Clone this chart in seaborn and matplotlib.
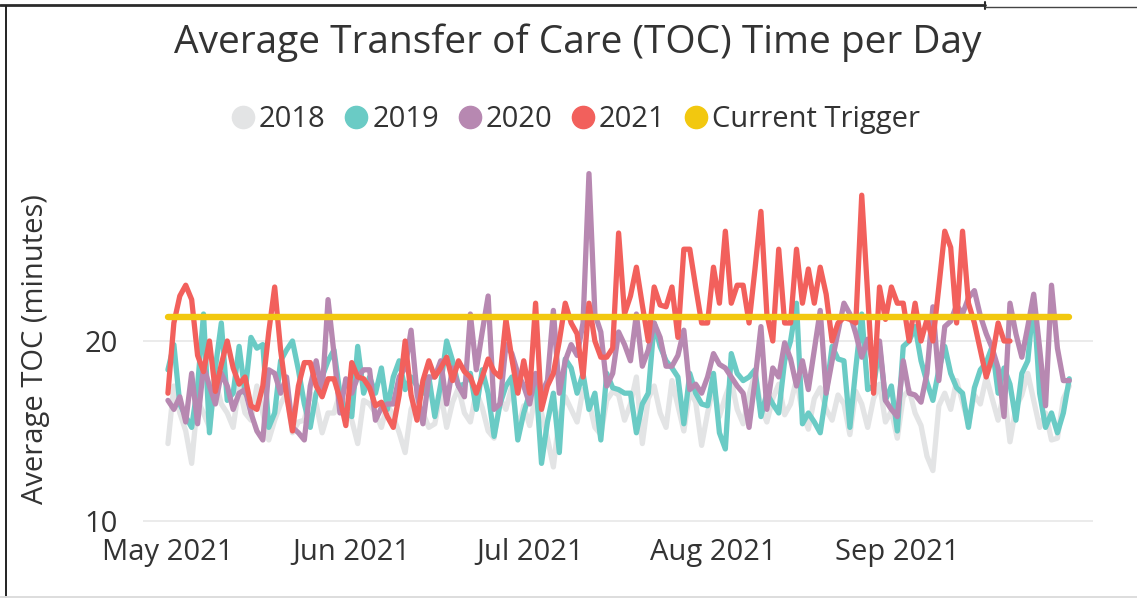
import numpy as np
import pandas as pd
import matplotlib
matplotlib.use("Agg")
import matplotlib.pyplot as plt
import matplotlib.dates as mdates
from matplotlib.lines import Line2D
import seaborn as sns

# daily average TOC (minutes), 1 May - 30 Sep
toc_2018 = [
    14.3, 17.5, 16.0, 15.0, 13.2, 16.7, 16.0, 15.2, 17.8, 16.5,
    16.0, 15.2, 17.5, 16.0, 15.6, 17.5, 16.0, 14.5, 15.6, 16.5,
    17.1, 14.9, 15.5, 15.6, 17.1, 16.5, 14.9, 16.0, 16.0, 17.1,
    16.5, 15.6, 14.3, 16.7, 16.5, 16.0, 15.2,
    16.5, 15.8, 14.9, 13.8, 16.2, 17.0, 16.0, 15.2, 15.4, 17.1,
    15.2, 16.6, 17.4, 16.0, 15.5, 17.2, 16.3, 15.0, 14.6, 16.8,
    16.2, 17.5, 15.0, 16.4, 15.3, 17.0, 16.0, 14.6, 13.0, 15.8,
    16.9, 16.2, 15.5, 17.3, 16.6, 15.2, 14.8, 16.7, 17.2,
    17.0, 15.6, 16.5, 18.0, 14.3, 16.8, 17.5, 16.0, 15.2, 17.8,
    16.4, 15.0, 17.2, 16.6, 14.2, 16.0, 17.5, 15.8, 16.9, 17.8,
    16.2, 15.4, 17.0, 18.2, 16.3, 15.5, 16.8, 17.6, 15.9, 16.5,
    17.9, 16.0, 15.1, 16.8, 17.4, 16.2, 15.6, 17.0, 16.5,
    14.8, 17.2, 16.5, 15.2, 16.8, 17.6, 15.5, 16.1, 14.6, 16.9,
    17.3, 16.0, 15.3, 13.6, 12.8, 16.4, 17.1, 16.2, 17.8, 16.6,
    15.4, 17.0, 16.5, 18.0, 16.8, 15.6, 17.2, 14.4, 16.3, 17.0,
    18.2, 16.7, 15.2, 16.0, 14.5, 14.6, 16.8, 17.5,
]
toc_2019 = [
    18.4, 19.8, 16.5, 15.8, 15.2, 17.5, 21.5, 14.9, 18.5, 21.0,
    16.7, 17.1, 19.7, 17.1, 20.2, 19.6, 19.8, 15.2, 16.0, 18.9,
    19.5, 20.0, 18.4, 16.5, 15.2, 17.1, 18.0, 18.9, 19.5, 17.1,
    16.0, 15.8, 19.7, 17.1, 18.0, 17.1, 18.5,
    16.2, 18.0, 18.9, 17.3, 18.0, 17.5, 17.1, 18.0, 15.8, 17.6,
    20.0, 18.9, 17.5, 17.6, 18.2, 16.2, 18.4, 17.1, 14.7, 16.5,
    17.5, 18.0, 14.5, 16.0, 17.1, 18.0, 13.2, 15.5, 17.1, 13.8,
    19.0, 18.5, 17.1, 18.2, 16.2, 17.1, 14.5, 18.2, 17.4,
    17.3, 17.1, 17.1, 14.9, 16.5, 17.1, 21.0, 19.7, 18.9, 18.5,
    18.0, 15.4, 18.2, 17.1, 16.5, 16.4, 18.2, 14.9, 14.0, 19.3,
    18.2, 17.8, 18.0, 18.4, 15.8, 17.1, 16.5, 16.0, 18.9, 20.0,
    22.1, 15.4, 16.0, 15.5, 14.9, 17.1, 19.7, 19.0, 18.9,
    15.2, 18.5, 21.5, 17.3, 17.5, 19.7, 16.7, 17.5, 15.0, 19.7,
    20.0, 20.8, 18.9, 17.7, 16.7, 18.4, 19.7, 18.2, 17.4, 17.1,
    15.2, 17.4, 18.4, 18.8, 19.7, 17.1, 18.5, 17.6, 15.6, 18.2,
    18.9, 22.3, 17.1, 15.2, 16.0, 14.9, 16.0, 17.9,
]
toc_2020 = [
    16.7, 16.2, 16.9, 15.5, 18.2, 15.4, 18.6, 17.5, 16.5, 18.2,
    17.5, 16.2, 17.1, 17.3, 16.0, 15.0, 14.5, 18.4, 18.2, 17.1,
    18.0, 15.2, 14.9, 14.5, 17.5, 18.9, 17.1, 22.3, 19.3, 16.0,
    17.9, 17.1, 18.0, 18.4, 18.4, 15.6, 16.3, 16.5,
    16.5, 18.0, 18.5, 20.6, 17.1, 15.4, 18.0, 18.0, 18.9, 16.5,
    18.5, 17.5, 16.9, 21.5, 18.4, 20.5, 22.5, 16.2, 16.5, 19.8,
    19.3, 18.2, 17.5, 16.5, 18.2, 17.1, 17.8, 21.7, 17.1, 18.9,
    19.8, 19.2, 21.0, 29.3, 21.5, 20.5, 17.5, 18.2,
    20.5, 19.8, 18.9, 21.5, 18.6, 19.5, 21.0, 20.2, 18.6, 18.6,
    19.2, 20.6, 17.3, 17.6, 17.1, 18.0, 19.3, 18.7, 18.5, 18.0,
    17.5, 17.1, 15.2, 17.8, 20.8, 16.2, 18.5, 18.0, 19.9, 19.0,
    17.5, 18.9, 17.3, 19.5, 21.7, 17.1, 18.9, 20.5, 22.1,
    21.5, 20.4, 19.1, 20.1, 18.5, 20.0, 16.7, 16.2, 15.8, 18.9,
    17.1, 17.0, 16.6, 18.2, 21.9, 17.8, 20.8, 21.1, 22.0, 21.5,
    22.4, 22.8, 21.4, 20.4, 19.6, 18.5, 15.8, 22.1, 20.4, 19.1,
    20.8, 22.6, 19.6, 16.4, 23.1, 19.6, 17.8, 17.8,
]
# 2021 only runs to 21 Sep
toc_2021 = [
    17.1, 21.0, 22.5, 23.1, 22.3, 19.2, 18.3, 20.0, 17.2, 18.7,
    20.0, 18.5, 17.6, 18.0, 16.4, 16.2, 17.5, 20.5, 23.0, 19.5,
    17.0, 15.0, 17.5, 18.8, 18.8, 17.5, 16.9, 17.9, 17.9, 16.8,
    15.3, 18.8, 18.0, 17.9, 17.4, 16.4, 16.6, 15.8,
    15.2, 17.0, 20.0, 17.0, 15.6, 17.8, 18.9, 18.0, 18.5, 19.1,
    17.8, 18.9, 18.3, 18.0, 17.1, 18.0, 19.0, 18.3, 18.0, 21.2,
    19.0, 17.1, 18.9, 17.1, 22.1, 16.2, 17.5, 18.2, 20.0, 22.1,
    21.0, 20.4, 18.0, 22.1, 20.0, 19.1,
    19.1, 19.6, 26.0, 21.5, 22.5, 24.1, 22.0, 20.0, 23.0, 22.0,
    21.9, 23.0, 20.2, 25.1, 25.1, 23.0, 21.0, 21.0, 24.1, 22.1,
    26.1, 22.1, 23.1, 23.1, 21.0, 24.0, 27.2, 21.5, 20.0, 25.1,
    21.0, 21.0, 25.1, 22.1, 24.0, 22.1, 24.1, 22.6, 20.0, 21.0,
    21.3, 21.2, 21.0, 28.1, 22.6, 17.1, 23.0, 21.2, 23.0, 22.1,
    22.1, 20.0, 22.1, 20.0, 21.2, 20.0, 23.0, 26.1, 25.2, 21.0,
    26.1, 22.1, 21.0, 19.5, 18.0, 19.1, 21.0, 20.0, 20.0,
]
trigger_value = 21.35

series_names = ["2018", "2019", "2020", "2021", "Current Trigger"]
colors = ["#E3E4E5", "#6ACBC5", "#B788B1", "#F2605C", "#F2C80F"]
month_ticks = ["2021-05-01", "2021-06-01", "2021-07-01", "2021-08-01", "2021-09-01"]

dates = pd.date_range("2021-05-01", "2021-09-30", freq="D")

frames = []
for name, vals in zip(series_names[:4], [toc_2018, toc_2019, toc_2020, toc_2021]):
    frames.append(pd.DataFrame({"date": dates[:len(vals)], "toc": vals, "series": name}))
frames.append(pd.DataFrame({"date": dates, "toc": trigger_value, "series": "Current Trigger"}))
df = pd.concat(frames, ignore_index=True)

sns.set_theme(style="white")
plt.rcParams["font.family"] = ["Open Sans", "DejaVu Sans"]
text_color = "#333333"

fig = plt.figure(figsize=(11.37, 5.98), dpi=100)
ax = fig.add_axes([0.1258, 0.1258, 0.8355, 0.5929])

sns.lineplot(
    data=df, x="date", y="toc", hue="series", hue_order=series_names,
    palette=dict(zip(series_names, colors)), linewidth=3.8,
    estimator=None, legend=False, ax=ax,
)
ax.lines[-1].set_linewidth(4.6)
for ln in ax.lines:
    ln.set_solid_capstyle("round")
    ln.set_solid_joinstyle("round")

ax.set_ylim(9.9, 29.6)
ax.set_yticks([10, 20])
x0 = mdates.date2num(dates[0])
ax.set_xlim(x0 - 4.2, x0 + 156.0)
ax.set_xticks(mdates.date2num(pd.to_datetime(month_ticks)))
ax.xaxis.set_major_formatter(mdates.DateFormatter("%b %Y"))

ax.grid(axis="y", color="#E9E9E9", linewidth=1.3)
ax.grid(axis="x", visible=False)
sns.despine(ax=ax, left=True, bottom=True)
ax.tick_params(axis="x", length=0, pad=11, labelsize=21, labelcolor=text_color)
ax.tick_params(axis="y", length=0, pad=18, labelsize=21, labelcolor=text_color)

ax.set_xlabel("")
ax.set_ylabel("Average TOC (minutes)", fontsize=21, color=text_color)
ax.yaxis.set_label_coords(-0.098, 0.49)

fig.text(0.508, 0.928, "Average Transfer of Care (TOC) Time per Day",
         ha="center", va="center", fontsize=28, color=text_color)

handles = [Line2D([], [], marker="o", linestyle="", markersize=16, color=c) for c in colors]
fig.legend(handles, series_names, loc="center", bbox_to_anchor=(0.505, 0.800),
           ncol=5, frameon=False, fontsize=21, handletextpad=0.05,
           columnspacing=0.55, handlelength=1.0, labelcolor=text_color)

# frame around the visual
fig.add_artist(Line2D([0, 0.866], [0.9916, 0.9916], transform=fig.transFigure, color="#2b2b2b", lw=2.0))
fig.add_artist(Line2D([0.866, 0.866], [0.985, 0.997], transform=fig.transFigure, color="#2b2b2b", lw=1.5))
fig.add_artist(Line2D([0.866, 1.0], [0.9885, 0.9885], transform=fig.transFigure, color="#444444", lw=1.0))
fig.add_artist(Line2D([0.0055, 0.0055], [0.0, 0.99], transform=fig.transFigure, color="#222222", lw=1.4))
fig.add_artist(Line2D([0, 1], [0.002, 0.002], transform=fig.transFigure, color="#DDDDDD", lw=1.4))

fig.savefig("out.png", dpi=100)
